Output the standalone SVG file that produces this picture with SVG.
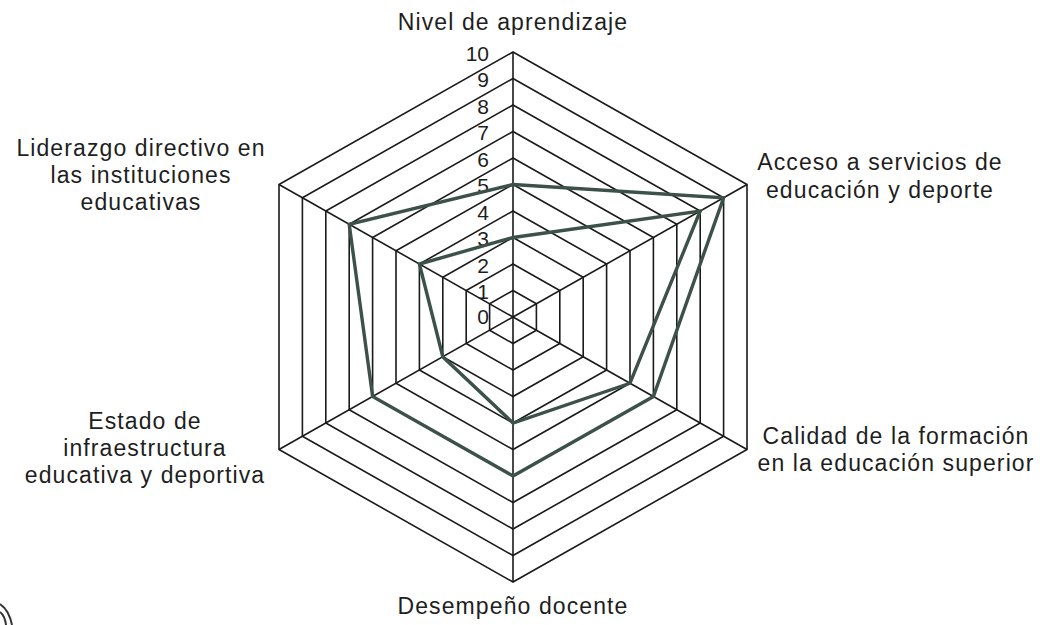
<svg xmlns="http://www.w3.org/2000/svg" width="1040" height="625" viewBox="0 0 1040 625">
<style>
.bg{fill:#ffffff}
.ring{fill:none;stroke:#1a1a1a;stroke-width:1.6;stroke-linejoin:miter}
.spoke{stroke:#1a1a1a;stroke-width:1.6}
.series{fill:none;stroke:#3c5148;stroke-width:3.4;stroke-linejoin:miter}
.lbl{font-family:"Liberation Sans",Arial,sans-serif;font-size:23px;letter-spacing:1.1px;fill:#1e1e1e;text-anchor:middle}
.tick{font-family:"Liberation Sans",Arial,sans-serif;font-size:21px;fill:#1e1e1e;text-anchor:end}
</style>
<rect class="bg" x="0" y="0" width="1040" height="625"/>
<g id="grid">
<polygon class="ring" points="513,290.5 536.4,303.75 536.4,330.25 513,343.5 489.6,330.25 489.6,303.75"/>
<polygon class="ring" points="513,264 559.8,290.5 559.8,343.5 513,370 466.2,343.5 466.2,290.5"/>
<polygon class="ring" points="513,237.5 583.2,277.25 583.2,356.75 513,396.5 442.8,356.75 442.8,277.25"/>
<polygon class="ring" points="513,211 606.6,264 606.6,370 513,423 419.4,370 419.4,264"/>
<polygon class="ring" points="513,184.5 630,250.75 630,383.25 513,449.5 396,383.25 396,250.75"/>
<polygon class="ring" points="513,158 653.4,237.5 653.4,396.5 513,476 372.6,396.5 372.6,237.5"/>
<polygon class="ring" points="513,131.5 676.8,224.25 676.8,409.75 513,502.5 349.2,409.75 349.2,224.25"/>
<polygon class="ring" points="513,105 700.2,211 700.2,423 513,529 325.8,423 325.8,211"/>
<polygon class="ring" points="513,78.5 723.6,197.75 723.6,436.25 513,555.5 302.4,436.25 302.4,197.75"/>
<polygon class="ring" points="513,52 747,184.5 747,449.5 513,582 279,449.5 279,184.5"/>
<line class="spoke" x1="513" y1="317" x2="513" y2="52"/>
<line class="spoke" x1="513" y1="317" x2="747" y2="184.5"/>
<line class="spoke" x1="513" y1="317" x2="747" y2="449.5"/>
<line class="spoke" x1="513" y1="317" x2="513" y2="582"/>
<line class="spoke" x1="513" y1="317" x2="279" y2="449.5"/>
<line class="spoke" x1="513" y1="317" x2="279" y2="184.5"/>
</g>
<g id="ticks">
<text class="tick" x="489" y="61">10</text>
<text class="tick" x="489" y="87">9</text>
<text class="tick" x="489" y="114">8</text>
<text class="tick" x="489" y="140">7</text>
<text class="tick" x="489" y="167">6</text>
<text class="tick" x="489" y="193">5</text>
<text class="tick" x="489" y="220">4</text>
<text class="tick" x="489" y="246">3</text>
<text class="tick" x="489" y="273">2</text>
<text class="tick" x="489" y="299">1</text>
<text class="tick" x="489" y="324">0</text>
</g>
<g id="connectors">
<polygon class="series" points="513,184.5 723.6,197.75 653.4,396.5 513,476 372.6,396.5 349.2,224.25"/>
<polygon class="series" points="513,237.5 700.2,211 630,383.25 513,423 442.8,356.75 419.4,264"/>
</g>
<g id="node-nivel"><text class="lbl" x="513" y="30">Nivel de aprendizaje</text></g>
<g id="node-acceso"><text class="lbl" x="880" y="170">Acceso a servicios de</text><text class="lbl" x="880" y="198">educación y deporte</text></g>
<g id="node-calidad"><text class="lbl" x="896" y="444">Calidad de la formación</text><text class="lbl" x="896" y="471">en la educación superior</text></g>
<g id="node-desempeno"><text class="lbl" x="513" y="614">Desempeño docente</text></g>
<g id="node-estado"><text class="lbl" x="145" y="429">Estado de</text><text class="lbl" x="145" y="456">infraestructura</text><text class="lbl" x="145" y="483">educativa y deportiva</text></g>
<g id="node-liderazgo"><text class="lbl" x="141" y="156">Liderazgo directivo en</text><text class="lbl" x="141" y="183">las instituciones</text><text class="lbl" x="141" y="210">educativas</text></g>
<g id="stamp"><path d="M0,604 Q9,610 12,625" fill="none" stroke="#333" stroke-width="2"/><path d="M0,612 Q5,616 6,625" fill="none" stroke="#333" stroke-width="2"/></g>
</svg>
